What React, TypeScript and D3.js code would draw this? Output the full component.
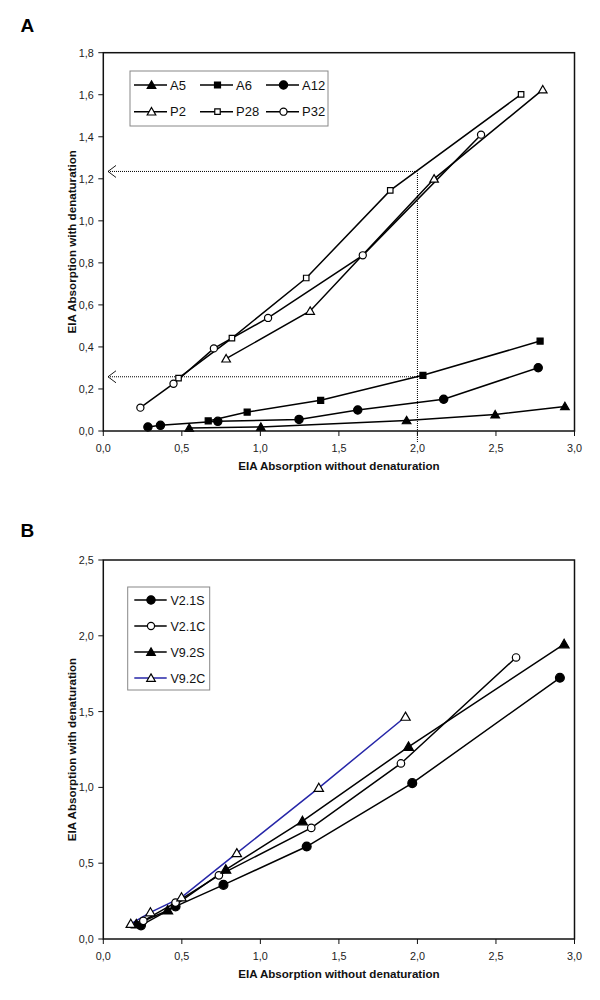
import React from "react";
import * as d3 from "d3";

// ---------- Data ----------
const xTicks = [0, 0.5, 1, 1.5, 2, 2.5, 3];
const yTicksA = [0, 0.2, 0.4, 0.6, 0.8, 1.0, 1.2, 1.4, 1.6, 1.8];
const yTicksB = [0, 0.5, 1.0, 1.5, 2.0, 2.5];

const A5: [number, number][] = [[0.547, 0.014], [1.003, 0.019], [1.931, 0.05], [2.495, 0.078], [2.939, 0.117]];
const A6: [number, number][] = [[0.668, 0.048], [0.916, 0.09], [1.384, 0.146], [2.035, 0.265], [2.781, 0.428]];
const A12: [number, number][] = [[0.284, 0.019], [0.364, 0.027], [0.729, 0.046], [1.246, 0.055], [1.62, 0.1], [2.167, 0.151], [2.769, 0.301]];
const P2: [number, number][] = [[0.782, 0.344], [1.317, 0.571], [2.106, 1.2], [2.798, 1.624]];
const P28: [number, number][] = [[0.479, 0.252], [0.819, 0.442], [1.292, 0.728], [1.827, 1.145], [2.66, 1.602]];
const P32: [number, number][] = [[0.236, 0.111], [0.447, 0.225], [0.704, 0.393], [1.049, 0.538], [1.652, 0.836], [2.405, 1.41]];

const V21S: [number, number][] = [[0.24, 0.09], [0.46, 0.215], [0.765, 0.357], [1.295, 0.61], [1.967, 1.028], [2.907, 1.723]];
const V21C: [number, number][] = [[0.255, 0.12], [0.46, 0.24], [0.736, 0.42], [1.324, 0.733], [1.895, 1.158], [2.628, 1.857]];
const V92S: [number, number][] = [[0.21, 0.097], [0.41, 0.189], [0.78, 0.458], [1.268, 0.777], [1.943, 1.268], [2.934, 1.945]];
const V92C: [number, number][] = [[0.175, 0.1], [0.3, 0.176], [0.498, 0.275], [0.85, 0.566], [1.372, 0.997], [1.924, 1.466]];

// reference guide lines in panel A (x = 2.0)
const guideX = 2.0;
const guideYs = [1.235, 0.258];
const arrowTipX = 0.03;

type Shape = "triangle" | "square" | "circle";
interface Series { name: string; data: [number, number][]; shape: Shape; filled: boolean; color: string; }

const seriesA: Series[] = [
  { name: "A5", data: A5, shape: "triangle", filled: true, color: "#000" },
  { name: "A6", data: A6, shape: "square", filled: true, color: "#000" },
  { name: "A12", data: A12, shape: "circle", filled: true, color: "#000" },
  { name: "P2", data: P2, shape: "triangle", filled: false, color: "#000" },
  { name: "P28", data: P28, shape: "square", filled: false, color: "#000" },
  { name: "P32", data: P32, shape: "circle", filled: false, color: "#000" },
];
const seriesB: Series[] = [
  { name: "V2.1S", data: V21S, shape: "circle", filled: true, color: "#000" },
  { name: "V2.1C", data: V21C, shape: "circle", filled: false, color: "#000" },
  { name: "V9.2S", data: V92S, shape: "triangle", filled: true, color: "#000" },
  { name: "V9.2C", data: V92C, shape: "triangle", filled: false, color: "#2626a8" },
];

const fmt = (d: number) => d.toFixed(1).replace(".", ",");
const FONT = "'Liberation Sans', Arial, sans-serif";

function markerPath(shape: Shape, filled: boolean, big: boolean) {
  const t = shape === "triangle" ? d3.symbolTriangle : shape === "square" ? d3.symbolSquare : d3.symbolCircle;
  let size: number;
  if (shape === "circle") size = filled ? (big ? 62 : 54) : (big ? 44 : 40);
  else if (shape === "square") size = filled ? 36 : 30;
  else size = filled ? (big ? 42 : 32) : (big ? 38 : 32);
  return d3.symbol(t, size)() as string;
}

function Marker({ s, x, y, big }: { s: Series; x: number; y: number; big: boolean }) {
  const ty = s.shape === "triangle" ? 0.8 : 0;
  return (
    <path d={markerPath(s.shape, s.filled, big)} transform={`translate(${x},${y + ty})`}
      fill={s.filled ? "#000" : "#fff"} stroke="#000" strokeWidth={1.2} />
  );
}

function Panel({ label, labelY, y0, y1, yMax, yTicks, series, big, legend, guides }: any) {
  const x = d3.scaleLinear().domain([0, 3]).range([103.3, 574.5]);
  const y = d3.scaleLinear().domain([0, yMax]).range([y1, y0]);
  const line = d3.line<[number, number]>().x(d => x(d[0])).y(d => y(d[1]));
  return (
    <g fontFamily={FONT}>
      <text x={20.5} y={labelY} fontSize={19} fontWeight="bold">{label}</text>
      {guides && (
        <g stroke="#000" strokeWidth={1} fill="none">
          {guideYs.map((g, i) => (
            <g key={i}>
              <line x1={x(arrowTipX)} x2={x(guideX)} y1={y(g)} y2={y(g)} strokeDasharray="1,1" />
              <path d={`M${x(arrowTipX) + 8},${y(g) - 6} L${x(arrowTipX)},${y(g)} L${x(arrowTipX) + 8},${y(g) + 6}`} strokeWidth={0.9} />
            </g>
          ))}
          <line x1={x(guideX)} x2={x(guideX)} y1={y1 + 11} y2={y(guideYs[0])} strokeDasharray="1,1" />
        </g>
      )}
      {series.map((s: Series) => (
        <path key={s.name} d={line(s.data) as string} fill="none" stroke={s.color} strokeWidth={1.5} />
      ))}
      {series.map((s: Series) => s.data.map((d, i) => (
        <Marker key={s.name + i} s={s} x={x(d[0])} y={y(d[1])} big={big} />
      )))}
      <rect x={x(0)} y={y0} width={x(3) - x(0)} height={y1 - y0} fill="none" stroke="#111" strokeWidth={1.5} />
      {xTicks.map(t => (
        <g key={"x" + t}>
          <line x1={x(t)} x2={x(t)} y1={y1} y2={y1 + 5} stroke="#111" strokeWidth={1} />
          <text x={x(t)} y={y1 + 21} textAnchor="middle" fontSize={10.8} fill="#222">{fmt(t)}</text>
        </g>
      ))}
      {yTicks.map((t: number) => (
        <g key={"y" + t}>
          <line x1={x(0) - 5} x2={x(0)} y1={y(t)} y2={y(t)} stroke="#111" strokeWidth={1} />
          <text x={x(0) - 9.5} y={y(t) + 3.9} textAnchor="end" fontSize={10.8} fill="#222">{fmt(t)}</text>
        </g>
      ))}
      <text x={(x(0) + x(3)) / 2} y={y1 + 39} textAnchor="middle" fontSize={11.6} fontWeight="bold" fill="#111">EIA Absorption without denaturation</text>
      <text transform={`translate(${x(0) - 27},${(y0 + y1) / 2}) rotate(-90)`} textAnchor="middle" fontSize={11.6} fontWeight="bold" fill="#111">EIA Absorption with denaturation</text>
      {legend}
    </g>
  );
}

function LegendA() {
  const cols = [134, 200, 266];
  const rows = [85, 111.7];
  return (
    <g>
      <rect x={130} y={71} width={198} height={55} fill="#fff" stroke="#888" strokeWidth={1} />
      {seriesA.map((s, i) => {
        const cx = cols[i % 3], cy = rows[Math.floor(i / 3)];
        return (
          <g key={s.name}>
            <line x1={cx} x2={cx + 33} y1={cy} y2={cy} stroke="#000" strokeWidth={1.5} />
            <Marker s={s} x={cx + 17.5} y={cy} big={false} />
            <text x={cx + 36} y={cy + 4.6} fontSize={13} fill="#111">{s.name}</text>
          </g>
        );
      })}
    </g>
  );
}

function LegendB() {
  const rows = [600, 626, 652, 678];
  return (
    <g>
      <rect x={127.7} y={587} width={82} height={103} fill="#fff" stroke="#888" strokeWidth={1} />
      {seriesB.map((s, i) => (
        <g key={s.name}>
          <line x1={134.3} x2={166.7} y1={rows[i]} y2={rows[i]} stroke={s.color} strokeWidth={1.5} />
          <Marker s={s} x={151} y={rows[i]} big={false} />
          <text x={170.5} y={rows[i] + 4.5} fontSize={12.5} fill="#111">{s.name}</text>
        </g>
      ))}
    </g>
  );
}

export default function App() {
  return (
    <svg width={600} height={1000} style={{ position: "absolute", left: 0, top: 0, background: "#fff" }}>
      <rect width={600} height={1000} fill="#fff" />
      <Panel label="A" labelY={32} y0={52.7} y1={431} yMax={1.8} yTicks={yTicksA} series={seriesA} big={false} legend={<LegendA />} guides />
      <Panel label="B" labelY={537} y0={560} y1={939} yMax={2.5} yTicks={yTicksB} series={seriesB} big={true} legend={<LegendB />} guides={false} />
    </svg>
  );
}
